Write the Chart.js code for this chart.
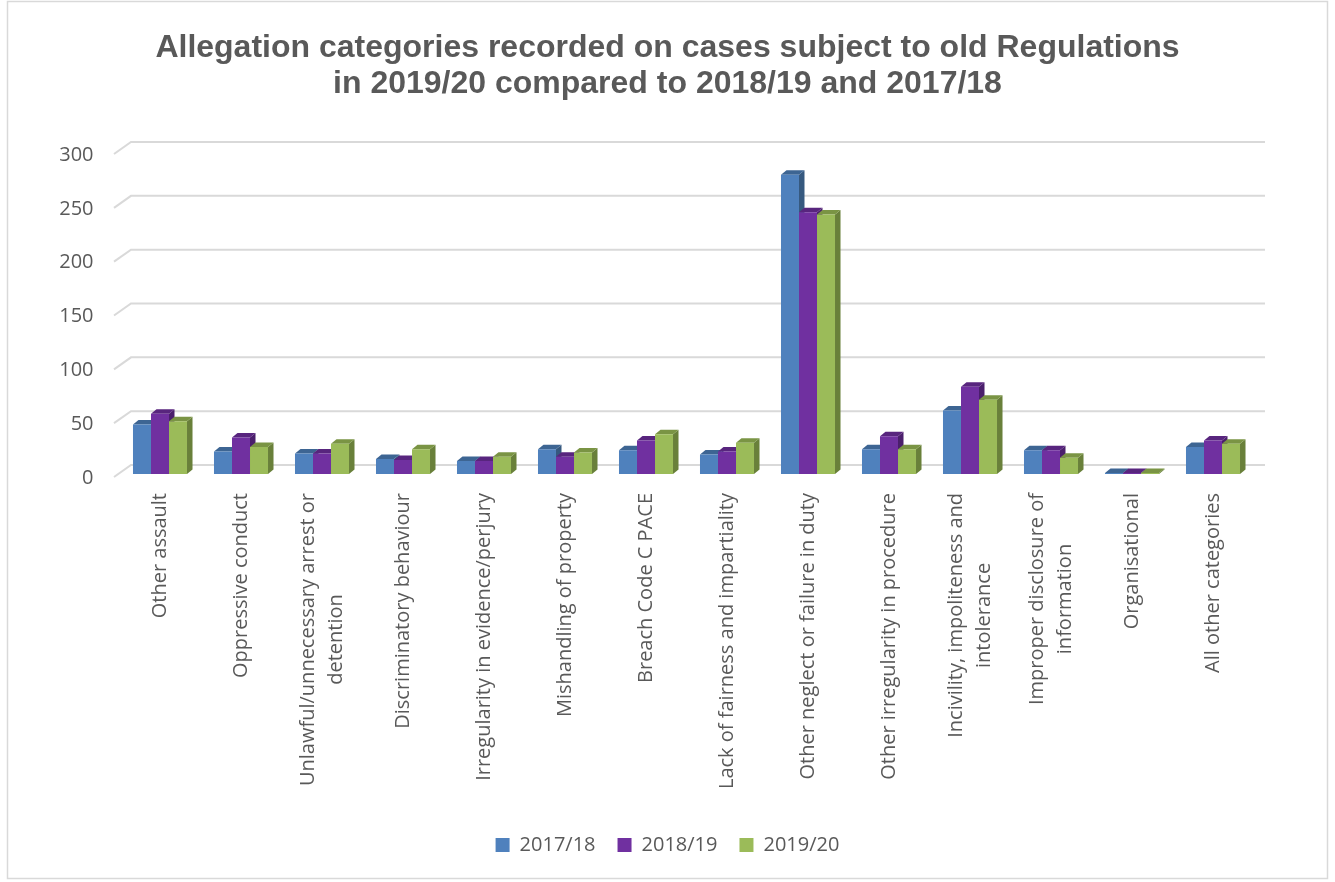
<!DOCTYPE html>
<html>
<head>
<meta charset="utf-8">
<title>Allegation categories</title>
<script src="https://cdn.jsdelivr.net/npm/chart.js@4/dist/chart.umd.min.js"></script>
<style>
  html, body { margin: 0; padding: 0; background: #ffffff; }
  #wrap { width: 1335px; height: 882px; }
</style>
</head>
<body>
<div id="wrap"><canvas id="allegationChart" width="1335" height="882"></canvas></div>
<script>
// Categories (multi-line ones as arrays)
const categories = [
    'Other assault',
    'Oppressive conduct',
    ['Unlawful/unnecessary arrest or', 'detention'],
    'Discriminatory behaviour',
    'Irregularity in evidence/perjury',
    'Mishandling of property',
    'Breach Code C PACE',
    'Lack of fairness and impartiality',
    'Other neglect or failure in duty',
    'Other irregularity in procedure',
    ['Incivility, impoliteness and', 'intolerance'],
    ['Improper disclosure of', 'information'],
    'Organisational',
    'All other categories'
];

const seriesNames = ['2017/18', '2018/19', '2019/20'];
const values2017 = [46, 21, 19, 14, 12, 23, 22, 18, 278, 23, 59, 22, 1, 25];
const values2018 = [56, 34, 19, 13, 12, 16, 31, 21, 243, 35, 81, 22, 1, 31];
const values2019 = [49, 25, 28, 23, 16, 20, 37, 29, 241, 23, 69, 15, 1, 28];
const yTicks = [0, 50, 100, 150, 200, 250, 300];

const titleLines = [
    'Allegation categories recorded on cases subject to old Regulations',
    'in 2019/20 compared to 2018/19 and 2017/18'
];

// Front / top / side shades per series
const faceColors = [
    { front: '#4f81bd', top: '#3d6593', side: '#36597f' },
    { front: '#7030a0', top: '#58257e', side: '#4b1f6c' },
    { front: '#9bbb59', top: '#7a9444', side: '#69803a' }
];

const textColor = '#595959';
const gridColor = '#d9d9d9';
const fontFamily = "'Open Sans', 'DejaVu Sans', sans-serif";

// Depth offsets for the pseudo-3D look
const wallDX = 11.5, wallDY = -9;
const floorDX = -5.5, floorDY = 3;
const barDX = 5.5, barDY = -4.5;

// Frame, back wall lines and 3D bar faces
const depthPlugin = {
    id: 'depthPlugin',
    beforeDraw(chart) {
        const { ctx, width, height } = chart;
        ctx.save();
        ctx.fillStyle = '#ffffff';
        ctx.fillRect(0, 0, width, height);
        ctx.strokeStyle = gridColor;
        ctx.lineWidth = 1.5;
        ctx.strokeRect(7.5, 1.5, width - 15, height - 5);
        ctx.restore();
    },
    beforeDatasetsDraw(chart) {
        const { ctx, chartArea, scales: { y } } = chart;
        ctx.save();
        ctx.strokeStyle = gridColor;
        ctx.lineWidth = 2;
        yTicks.forEach(v => {
            const py = y.getPixelForValue(v);
            ctx.beginPath();
            ctx.moveTo(chartArea.left + floorDX, py + floorDY);
            ctx.lineTo(chartArea.left + wallDX, py + wallDY);
            ctx.lineTo(chartArea.right + wallDX, py + wallDY);
            ctx.stroke();
        });

        chart.data.datasets.forEach((ds, di) => {
            const meta = chart.getDatasetMeta(di);
            const c = faceColors[di];
            meta.data.forEach(bar => {
                const { x, y: top, base, width } = bar.getProps(['x', 'y', 'base', 'width'], true);
                const left = x - width / 2;
                const right = x + width / 2;
                // side face
                ctx.fillStyle = c.side;
                ctx.beginPath();
                ctx.moveTo(right, top);
                ctx.lineTo(right + barDX, top + barDY);
                ctx.lineTo(right + barDX, base + barDY);
                ctx.lineTo(right, base);
                ctx.closePath();
                ctx.fill();
                // top face
                ctx.fillStyle = c.top;
                ctx.beginPath();
                ctx.moveTo(left, top);
                ctx.lineTo(left + barDX, top + barDY);
                ctx.lineTo(right + barDX, top + barDY);
                ctx.lineTo(right, top);
                ctx.closePath();
                ctx.fill();
            });
        });
        ctx.restore();
    },
    afterDraw(chart) {
        // rotated category labels, lines centred on each other
        const { ctx, scales: { x } } = chart;
        const lineHeight = 28;
        const labelTop = 493;
        ctx.save();
        ctx.fillStyle = textColor;
        ctx.font = '20px ' + fontFamily;
        ctx.textBaseline = 'middle';
        ctx.textAlign = 'right';
        categories.forEach((label, i) => {
            const lines = Array.isArray(label) ? label : [label];
            const widths = lines.map(l => ctx.measureText(l).width);
            const maxW = Math.max(...widths);
            const px = x.getPixelForValue(i);
            ctx.save();
            ctx.translate(px, labelTop);
            ctx.rotate(-Math.PI / 2);
            lines.forEach((line, li) => {
                const offset = (li - (lines.length - 1) / 2) * lineHeight;
                ctx.fillText(line, -(maxW - widths[li]) / 2, offset);
            });
            ctx.restore();
        });
        ctx.restore();
    }
};

const ctx = document.getElementById('allegationChart').getContext('2d');
const allegationChart = new Chart(ctx, {
    type: 'bar',
    data: {
        labels: categories,
        datasets: [
            { label: seriesNames[0], data: values2017, backgroundColor: faceColors[0].front },
            { label: seriesNames[1], data: values2018, backgroundColor: faceColors[1].front },
            { label: seriesNames[2], data: values2019, backgroundColor: faceColors[2].front }
        ].map(ds => Object.assign(ds, {
            borderWidth: 0,
            categoryPercentage: 0.667,
            barPercentage: 1
        }))
    },
    options: {
        responsive: false,
        animation: false,
        devicePixelRatio: 1,
        layout: {
            padding: { left: 0, right: 0, top: 0, bottom: 17 }
        },
        plugins: {
            title: {
                display: true,
                text: titleLines,
                color: textColor,
                font: { family: "'Liberation Sans', Arial, sans-serif", size: 32, weight: 'bold', lineHeight: '36px' },
                padding: { top: 30, bottom: 49 }
            },
            legend: {
                position: 'bottom',
                labels: {
                    boxWidth: 14,
                    boxHeight: 14,
                    padding: 22,
                    color: textColor,
                    font: { family: fontFamily, size: 20 }
                }
            },
            tooltip: { enabled: false }
        },
        scales: {
            x: {
                ticks: { display: false },
                grid: { display: false },
                border: { display: false },
                afterFit: s => { s.height = 339; }
            },
            y: {
                min: 0,
                max: 300,
                afterBuildTicks: s => { s.ticks = yTicks.map(v => ({ value: v })); },
                ticks: {
                    padding: 26,
                    labelOffset: 4,
                    color: textColor,
                    font: { family: fontFamily, size: 20 }
                },
                grid: { display: false, drawTicks: false },
                border: { display: false },
                afterFit: s => { s.width = 119.5; }
            },
            yRight: {
                type: 'linear',
                position: 'right',
                ticks: { display: false },
                grid: { display: false },
                border: { display: false },
                afterFit: s => { s.width = 81.5; }
            }
        }
    },
    plugins: [depthPlugin]
});
</script>
</body>
</html>
